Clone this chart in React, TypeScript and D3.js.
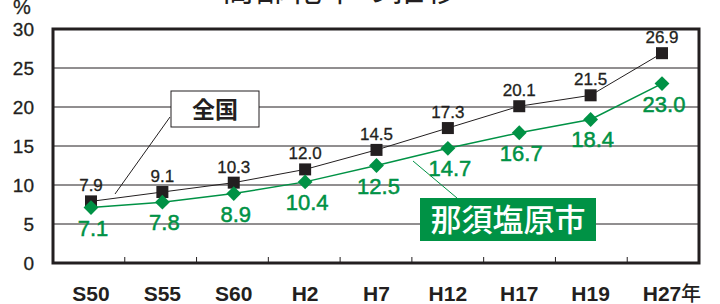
import React, { useEffect } from "react";
import * as d3 from "d3";

const categories = ["S50", "S55", "S60", "H2", "H7", "H12", "H17", "H19", "H27"];
const nationalValues = [7.9, 9.1, 10.3, 12.0, 14.5, 17.3, 20.1, 21.5, 26.9];
const cityValues = [7.1, 7.8, 8.9, 10.4, 12.5, 14.7, 16.7, 18.4, 23.0];
const yTicks = [0, 5, 10, 15, 20, 25, 30];

const W = 720;
const H = 304;
const BLACK = "#231f20";
const GREEN = "#009245";
const NUM_FONT = "'Liberation Sans', Arial, sans-serif";
const JP_FONT = "'Noto Sans CJK JP', sans-serif";

const App: React.FC = () => {
  useEffect(() => {
    document.body.style.margin = "0";
  }, []);

  const plot = { left: 53, right: 699, top: 29, bottom: 263 };

  // band scale for the tick marks, point scale for the markers
  const xBand = d3.scaleBand<string>().domain(categories).range([plot.left, plot.right]);
  const x = d3.scalePoint<string>().domain(categories).range([91, 662]);
  const y = d3.scaleLinear().domain([0, 30]).range([plot.bottom, plot.top]);

  const line = d3
    .line<number>()
    .x((_, i) => x(categories[i]) as number)
    .y((d) => y(d));

  const diamond = d3.symbol().type(d3.symbolDiamond2).size(140)();

  return (
    <svg
      width={W}
      height={H}
      style={{ position: "absolute", left: 0, top: 0, background: "#fff" }}
    >
      {/* title, mostly cut off at the top */}
      <text x={222} y={1} fontFamily={JP_FONT} fontSize={32} fill={BLACK} letterSpacing={2}>
        高齢化率の推移
      </text>

      {/* grid */}
      {yTicks.slice(1, -1).map((t) => (
        <line key={t} x1={plot.left} x2={plot.right} y1={y(t)} y2={y(t)} stroke={BLACK} strokeWidth={1} />
      ))}

      {/* x tick marks */}
      {categories.slice(1).map((c) => (
        <line
          key={c}
          x1={xBand(c)}
          x2={xBand(c)}
          y1={plot.bottom}
          y2={plot.bottom - 6}
          stroke={BLACK}
          strokeWidth={1}
        />
      ))}

      {/* frame */}
      <rect
        x={plot.left}
        y={plot.top}
        width={plot.right - plot.left}
        height={plot.bottom - plot.top}
        fill="none"
        stroke={BLACK}
        strokeWidth={3}
      />

      {/* y labels */}
      {yTicks.map((t) => (
        <text
          key={t}
          x={34}
          y={y(t) + 7}
          textAnchor="end"
          fontFamily={NUM_FONT}
          fontSize={19}
          fill={BLACK}
          stroke={BLACK}
          strokeWidth={0.3}
        >
          {t}
        </text>
      ))}
      <text x={22} y={14} textAnchor="middle" fontFamily={NUM_FONT} fontSize={20} fill={BLACK} stroke={BLACK} strokeWidth={0.3}>
        %
      </text>

      {/* x labels */}
      {categories.map((c, i) => (
        <g key={c}>
          <text
            x={x(c)}
            y={301}
            textAnchor="middle"
            fontFamily={NUM_FONT}
            fontWeight="bold"
            fontSize={21}
            fill={BLACK}
          >
            {c}
          </text>
          {i === categories.length - 1 && (
            <text x={(x(c) as number) + 19} y={301} fontFamily={JP_FONT} fontWeight={500} fontSize={20} fill={BLACK}>
              年
            </text>
          )}
        </g>
      ))}

      {/* leader lines */}
      <line x1={170} y1={117} x2={115} y2={194} stroke={BLACK} strokeWidth={1} />
      <line x1={413} y1={161} x2={457} y2={198} stroke={GREEN} strokeWidth={1} />

      {/* national series */}
      <path d={line(nationalValues) || ""} fill="none" stroke={BLACK} strokeWidth={1} />
      {nationalValues.map((v, i) => (
        <rect
          key={i}
          x={(x(categories[i]) as number) - 6}
          y={y(v) - 6}
          width={12}
          height={12}
          fill={BLACK}
        />
      ))}

      {/* city series */}
      <path d={line(cityValues) || ""} fill="none" stroke={GREEN} strokeWidth={1.5} />
      {cityValues.map((v, i) => (
        <path
          key={i}
          d={diamond || ""}
          transform={`translate(${x(categories[i])},${y(v)})`}
          fill={GREEN}
        />
      ))}

      {/* value labels */}
      {nationalValues.map((v, i) => (
        <text
          key={i}
          x={x(categories[i])}
          y={y(v) - 10}
          textAnchor="middle"
          fontFamily={NUM_FONT}
          fontSize={17}
          fill={BLACK}
          stroke={BLACK}
          strokeWidth={0.3}
        >
          {v.toFixed(1)}
        </text>
      ))}
      {cityValues.map((v, i) => (
        <text
          key={i}
          x={(x(categories[i]) as number) + 2}
          y={y(v) + 28}
          textAnchor="middle"
          fontFamily={NUM_FONT}
          fontSize={22}
          fill={GREEN}
          stroke={GREEN}
          strokeWidth={0.5}
        >
          {v.toFixed(1)}
        </text>
      ))}

      {/* callouts */}
      <rect x={171} y={91} width={88} height={36} fill="#fff" stroke={BLACK} strokeWidth={1} />
      <text x={215} y={118} textAnchor="middle" fontFamily={JP_FONT} fontWeight={700} fontSize={23} fill={BLACK}>
        全国
      </text>
      <rect x={420} y={198} width={176} height={43} fill={GREEN} />
      <text x={508} y={231} textAnchor="middle" fontFamily={JP_FONT} fontWeight={500} fontSize={31} fill="#fff">
        那須塩原市
      </text>
    </svg>
  );
};

export default App;
